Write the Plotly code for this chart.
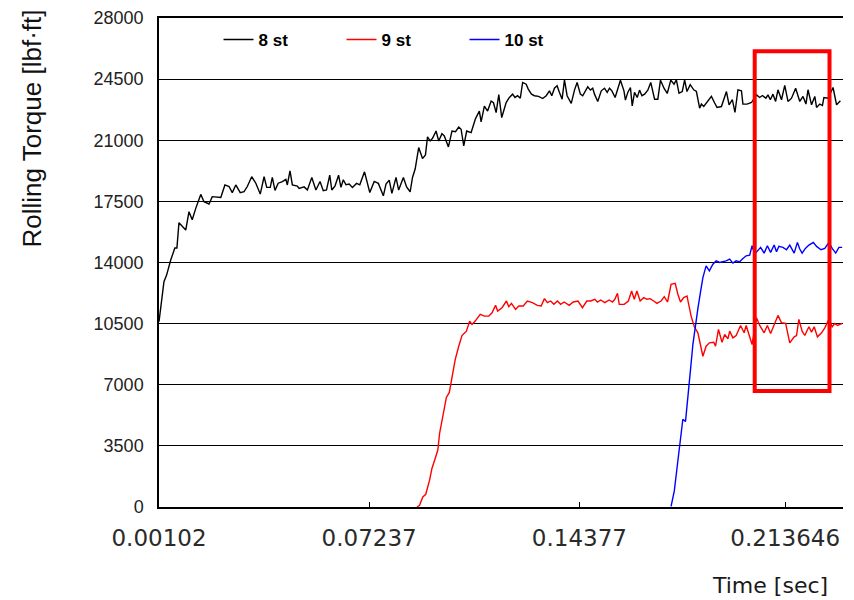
import plotly.graph_objects as go

# ---------------- data ----------------
series_names = ["8 st", "9 st", "10 st"]
series_colors = ["#000000", "#ff0000", "#0000ff"]

time_8st = [
    0.00102, 0.0027, 0.0036, 0.0050, 0.0064, 0.0071, 0.0078, 0.0101, 0.0112, 0.0123,
    0.0135, 0.0152, 0.0163, 0.0180, 0.0191, 0.0220, 0.0234, 0.0248, 0.0259, 0.0271,
    0.0286, 0.0299, 0.0310, 0.0325, 0.0339, 0.0354, 0.0367, 0.0376, 0.0388, 0.0395,
    0.0404, 0.0415, 0.0429, 0.0441, 0.0446, 0.0455, 0.0463, 0.0480, 0.0486, 0.0503,
    0.0514, 0.0529, 0.0543, 0.0557, 0.0568, 0.0579, 0.0590, 0.0597, 0.0608, 0.0620,
    0.0628, 0.0636, 0.0645, 0.0656, 0.0667, 0.0681, 0.0692, 0.0708, 0.0726, 0.0741,
    0.0755, 0.0772, 0.0781, 0.0792, 0.0801, 0.0815, 0.0824, 0.0840, 0.0851, 0.0863,
    0.0871, 0.0880, 0.0892, 0.0905, 0.0915, 0.0922, 0.0931, 0.0939, 0.0951, 0.0960,
    0.0971, 0.0979, 0.0993, 0.1005, 0.1017, 0.1028, 0.1036, 0.1045, 0.1055, 0.1070,
    0.1085, 0.1098, 0.1104, 0.1115, 0.1126, 0.1138, 0.1146, 0.1155, 0.1164, 0.1174,
    0.1189, 0.1200, 0.1211, 0.1219, 0.1228, 0.1237, 0.1245, 0.1257, 0.1264, 0.1275,
    0.1285, 0.1299, 0.1313, 0.1325, 0.1336, 0.1344, 0.1353, 0.1362, 0.1370, 0.1379,
    0.1387, 0.1396, 0.1410, 0.1421, 0.1430, 0.1441, 0.1449, 0.1457, 0.1466, 0.1475,
    0.1483, 0.1489, 0.1500, 0.1512, 0.1523, 0.1532, 0.1540, 0.1548, 0.1559, 0.1577,
    0.1589, 0.1594, 0.1602, 0.1611, 0.1617, 0.1625, 0.1634, 0.1642, 0.1650, 0.1659,
    0.1670, 0.1680, 0.1687, 0.1693, 0.1704, 0.1713, 0.1725, 0.1736, 0.1748, 0.1759,
    0.1767, 0.1776, 0.1787, 0.1795, 0.1803, 0.1814, 0.1826, 0.1835, 0.1846, 0.1852,
    0.1860, 0.1871, 0.1886, 0.1897, 0.1905, 0.1920, 0.1931, 0.1937, 0.1946, 0.1957,
    0.1966, 0.1976, 0.1988, 0.1993, 0.2007, 0.2022, 0.2039, 0.2050, 0.2059, 0.2071,
    0.2078, 0.2086, 0.2095, 0.2104, 0.2112, 0.2124, 0.2135, 0.2146, 0.2158, 0.2172,
    0.2186, 0.2197, 0.2207, 0.2214, 0.2226, 0.2237, 0.2243, 0.2254, 0.2263, 0.2268,
    0.2282, 0.2299, 0.2311, 0.2324,
]
torque_8st = [
    10610, 12900, 13280, 14140, 14830, 14830, 16280, 15860, 16910, 16450,
    17100, 17900, 17480, 17350, 17770, 17720, 18440, 18350, 18000, 18440,
    18000, 18060, 18350, 18910, 18540, 17920, 18910, 18300, 18300, 18870,
    18130, 18540, 18630, 18760, 18440, 19240, 18440, 18380, 18240, 18330,
    18150, 18870, 18150, 18640, 18110, 18150, 19000, 18150, 18390, 19000,
    18300, 18740, 18450, 18490, 18300, 18530, 18450, 19190, 18010, 18640,
    18530, 17820, 18490, 18720, 17960, 18870, 18150, 18870, 18330, 18050,
    18870, 19350, 20580, 19950, 20160, 21190, 20960, 21110, 21530, 20960,
    21380, 21250, 20620, 21530, 21490, 21760, 21630, 20680, 21530, 21440,
    22240, 22670, 22050, 22960, 22670, 23240, 23150, 22580, 23620, 22300,
    23160, 23450, 23640, 23450, 23550, 23410, 24310, 24210, 23930, 23640,
    23550, 23510, 23390, 23550, 23830, 23550, 23980, 24120, 23740, 23350,
    24460, 23550, 23110, 23870, 24310, 23640, 23550, 23830, 24060, 23870,
    23980, 23640, 23220, 23830, 23980, 23740, 23980, 23830, 23450, 24440,
    23830, 23300, 23740, 24020, 22970, 23740, 23450, 23870, 23550, 23640,
    23870, 24310, 23830, 23350, 23350, 24440, 23980, 23680, 24440, 24210,
    24460, 23700, 23790, 24460, 23790, 24180, 23890, 23790, 22840, 23070,
    22930, 23180, 23510, 23130, 22880, 22930, 23410, 23790, 23030, 23320,
    22590, 23890, 23830, 23070, 23070, 23160, 23600, 23450, 23560, 23410,
    23600, 23320, 23640, 23220, 23890, 23320, 24140, 23220, 23410, 23980,
    23220, 23510, 23070, 23890, 23030, 23510, 22880, 23070, 22990, 23450,
    23410, 24020, 23030, 23260,
]

time_9st = [
    0.0886, 0.0895, 0.0906, 0.0916, 0.0929, 0.0937, 0.0948, 0.0957, 0.0963, 0.0971,
    0.0979, 0.0986, 0.0996, 0.1005, 0.1016, 0.1028, 0.1039, 0.1054, 0.1065, 0.1073,
    0.1084, 0.1101, 0.1115, 0.1130, 0.1141, 0.1153, 0.1160, 0.1175, 0.1190, 0.1198,
    0.1207, 0.1221, 0.1232, 0.1247, 0.1261, 0.1278, 0.1295, 0.1308, 0.1319, 0.1329,
    0.1340, 0.1351, 0.1363, 0.1374, 0.1386, 0.1403, 0.1417, 0.1433, 0.1448, 0.1463,
    0.1476, 0.1490, 0.1499, 0.1510, 0.1524, 0.1539, 0.1550, 0.1558, 0.1567, 0.1573,
    0.1590, 0.1604, 0.1615, 0.1624, 0.1633, 0.1644, 0.1656, 0.1667, 0.1678, 0.1690,
    0.1701, 0.1715, 0.1726, 0.1737, 0.1749, 0.1763, 0.1772, 0.1781, 0.1792, 0.1803,
    0.1817, 0.1828, 0.1840, 0.1857, 0.1868, 0.1879, 0.1894, 0.1900, 0.1910, 0.1922,
    0.1931, 0.1942, 0.1948, 0.1959, 0.1970, 0.1985, 0.1997, 0.2004, 0.2016, 0.2024,
    0.2039, 0.2050, 0.2065, 0.2076, 0.2087, 0.2099, 0.2112, 0.2124, 0.2138, 0.2152,
    0.2167, 0.2175, 0.2183, 0.2194, 0.2203, 0.2217, 0.2226, 0.2235, 0.2246, 0.2260,
    0.2271, 0.2285, 0.2296, 0.2305, 0.2314, 0.2330,
]
torque_9st = [
    0, 96, 575, 729, 1534, 2206, 2781, 3261, 4220, 4987,
    5754, 6272, 6560, 7480, 8439, 9206, 9820, 10070, 10645, 10453,
    10645, 11030, 10930, 10930, 11124, 11546, 11220, 11412, 11796, 11470,
    11660, 11316, 11508, 11508, 11796, 11700, 11546, 11508, 11930, 11700,
    11796, 11604, 11796, 11604, 11738, 11546, 11738, 11796, 11412, 11796,
    11796, 11892, 11738, 11854, 11700, 11854, 11738, 11892, 12237, 11604,
    11604, 11796, 12372, 11892, 12372, 11796, 11988, 11892, 11930, 11796,
    11662, 11796, 12045, 11738, 12755, 12812, 12180, 11738, 11988, 12083,
    10932, 10319, 9974, 8631, 9206, 9398, 9436, 9206, 10165, 9436,
    9877, 9628, 10070, 9686, 9820, 10396, 9974, 10396, 9782, 9302,
    10837, 10396, 9974, 10396, 9935, 10396, 10971, 10549, 10511, 9398,
    9743, 9820, 10740, 10070, 9820, 10319, 10012, 10319, 9743, 9974,
    10261, 10740, 10319, 10511, 10396, 10511,
]

time_10st = [
    0.1749, 0.1760, 0.1769, 0.1777, 0.1789, 0.1798, 0.1806, 0.1815, 0.1823, 0.1831,
    0.1840, 0.1849, 0.1857, 0.1868, 0.1879, 0.1891, 0.1902, 0.1914, 0.1925, 0.1936,
    0.1948, 0.1959, 0.1970, 0.1982, 0.1993, 0.2004, 0.2016, 0.2024, 0.2033, 0.2044,
    0.2053, 0.2065, 0.2076, 0.2087, 0.2099, 0.2107, 0.2115, 0.2129, 0.2141, 0.2152,
    0.2167, 0.2178, 0.2186, 0.2194, 0.2205, 0.2217, 0.2232, 0.2243, 0.2258, 0.2271,
    0.2285, 0.2296, 0.2308, 0.2319, 0.2330,
]
torque_10st = [
    38, 920, 2206, 3261, 5025, 4891, 6521, 7864, 9302, 10357,
    11354, 12313, 13138, 13810, 13522, 13906, 14097, 14001, 14039, 14097,
    14193, 13963, 14097, 14039, 14232, 14385, 14424, 14961, 14481, 14673,
    14865, 14538, 14961, 14577, 14999, 14615, 14922, 14865, 14730, 14999,
    14538, 15152, 14769, 14538, 14807, 14999, 15152, 14922, 14730, 14807,
    15152, 14807, 14538, 14865, 14865,
]

x_tick_values = [0.00102, 0.07237, 0.14377, 0.213646]
x_tick_labels = ["0.00102", "0.07237", "0.14377", "0.213646"]
y_tick_values = [0, 3500, 7000, 10500, 14000, 17500, 21000, 24500, 28000]
y_tick_labels = ["0", "3500", "7000", "10500", "14000", "17500", "21000", "24500", "28000"]

# highlighted window (red box) in data units
box_time = [0.2033, 0.2287]
box_torque = [6642, 26093]

# ---------------- figure ----------------
fig = go.Figure()
for name, color, xs, ys in zip(
    series_names,
    series_colors,
    [time_8st, time_9st, time_10st],
    [torque_8st, torque_9st, torque_10st],
):
    fig.add_trace(go.Scatter(x=xs, y=ys, mode="lines", name=name,
                             line=dict(color=color, width=1.4)))

fig.add_shape(type="rect", xref="x", yref="y",
              x0=box_time[0], x1=box_time[1], y0=box_torque[0], y1=box_torque[1],
              line=dict(color="#ff0000", width=4), fillcolor="rgba(0,0,0,0)",
              layer="above")

fig.update_layout(
    width=854, height=600,
    margin=dict(l=159, r=11, t=18, b=93, autoexpand=False),
    plot_bgcolor="white", paper_bgcolor="white",
    showlegend=True,
    legend=dict(orientation="h", x=0.087, y=0.992, xanchor="left", yanchor="top",
                bgcolor="rgba(0,0,0,0)", entrywidth=78, entrywidthmode="pixels",
                font=dict(family="Liberation Sans, Arial, sans-serif", size=17,
                          color="black", weight="bold")),
    annotations=[
        dict(text="Rolling Torque [lbf·ft]", xref="paper", yref="paper",
             x=-0.1857, y=0.774, xanchor="center", yanchor="middle",
             textangle=-90, showarrow=False,
             font=dict(family="Liberation Sans, Arial, sans-serif", size=26, color="#111")),
        dict(text="Time [sec]", xref="paper", yref="paper",
             x=0.981, y=-0.1615, xanchor="right", yanchor="middle",
             showarrow=False,
             font=dict(family="DejaVu Sans, sans-serif", size=22, color="#1a1a1a")),
    ],
)

fig.update_xaxes(
    range=[0.00102, 0.23328],
    tickmode="array", tickvals=x_tick_values, ticktext=x_tick_labels,
    ticks="inside", ticklen=5, tickwidth=1.2, tickcolor="black",
    showline=True, linecolor="black", linewidth=1.5, mirror=True,
    showgrid=False, zeroline=False,
    tickfont=dict(family="DejaVu Sans, sans-serif", size=23, color="#2a2a2a"),
    ticklabelstandoff=10,
)
fig.update_yaxes(
    range=[0, 28000],
    tickmode="array", tickvals=y_tick_values, ticktext=y_tick_labels,
    showgrid=True, gridcolor="black", gridwidth=1.2,
    showline=True, linecolor="black", linewidth=1.5,
    zeroline=False, ticks="",
    tickfont=dict(family="Liberation Sans, Arial, sans-serif", size=18, color="#222"),
    ticklabelstandoff=10,
)

fig.write_html(
    "out.html",
    config={"displayModeBar": False},
    post_script="document.body.style.margin='0';document.body.style.padding='0';",
)
